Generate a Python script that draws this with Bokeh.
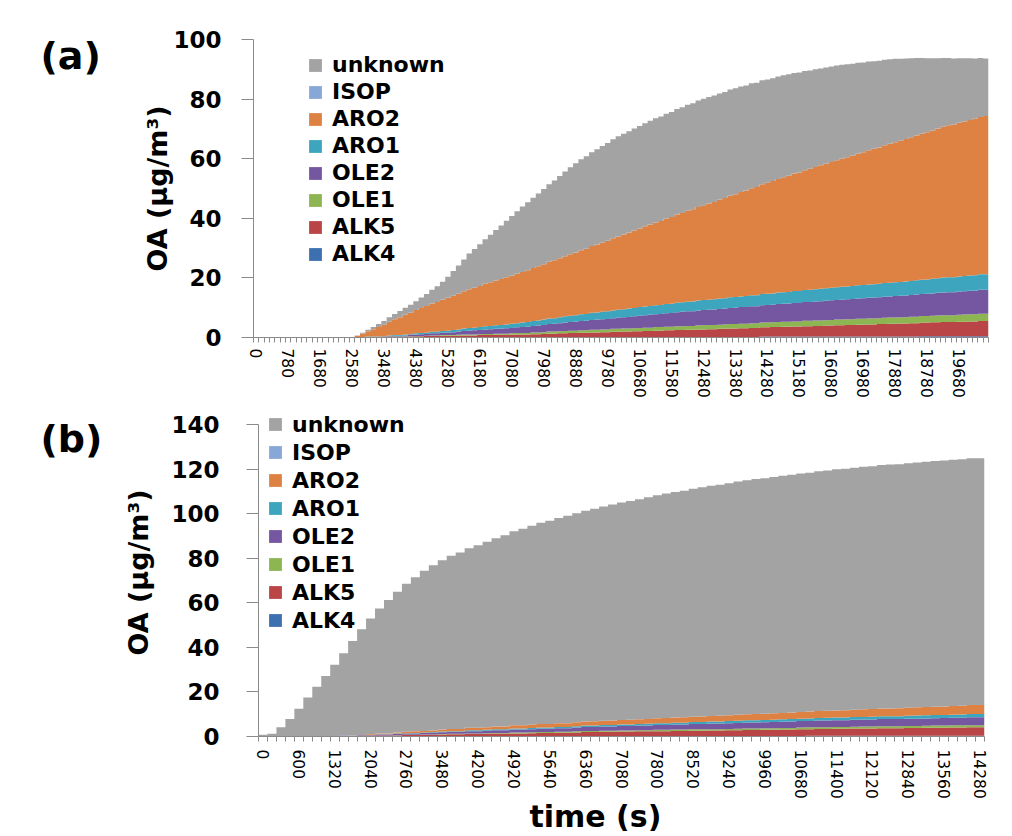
import numpy as np
from bokeh.plotting import figure
from bokeh.models import Range1d, FixedTicker, Legend, LegendItem
from bokeh.core.properties import value
from bokeh.layouts import column, row
from bokeh.embed import file_html
from bokeh.resources import INLINE

# ---------------- data ----------------
series = ["ALK4", "ALK5", "OLE1", "OLE2", "ARO1", "ARO2", "ISOP", "unknown"]
colors = ["#3D70B0", "#BA4547", "#8DB552", "#7556A0", "#3DA5BE", "#DE8244",
          "#87A8D6", "#A3A3A3"]

# panel (a) categories (s)
time_a = [0, 30] + list(range(180, 20431, 150))
Z18 = [0.0] * 18
a_ALK4 = Z18 + [0.0] * 12 + [0.1] * 25 + [0.2] * 40 + [0.3] * 30 + [0.4] * 13
a_ALK5 = Z18 + [
    0.0, 0.0,
    0.1, 0.1, 0.1, 0.1, 0.1, 0.2, 0.2, 0.2, 0.2, 0.3,
    0.3, 0.3, 0.4, 0.4, 0.4, 0.5, 0.5, 0.5, 0.5, 0.6,
    0.6, 0.6, 0.7, 0.7, 0.7, 0.8, 0.8, 0.8, 0.8, 0.9,
    0.9, 0.9, 1.0, 1.0, 1.1, 1.1, 1.1, 1.2, 1.2, 1.3,
    1.3, 1.4, 1.4, 1.5, 1.5, 1.6, 1.6, 1.7, 1.7, 1.8,
    1.8, 1.9, 1.9, 2.0, 2.0, 2.1, 2.1, 2.2, 2.2, 2.3,
    2.3, 2.4, 2.4, 2.5, 2.5, 2.6, 2.6, 2.7, 2.7, 2.8,
    2.8, 2.9, 2.9, 3.0, 3.0, 3.1, 3.1, 3.2, 3.2, 3.3,
    3.3, 3.4, 3.4, 3.5, 3.5, 3.6, 3.6, 3.7, 3.7, 3.8,
    3.8, 3.9, 3.9, 4.0, 4.0, 4.1, 4.1, 4.2, 4.2, 4.3,
    4.3, 4.4, 4.4, 4.5, 4.5, 4.6, 4.6, 4.7, 4.7, 4.8,
    4.8, 4.8, 4.9, 4.9, 5.0, 5.0, 5.1, 5.1]
a_OLE1 = Z18 + [
    0.0, 0.0,
    0.0, 0.0, 0.0, 0.0, 0.0, 0.1, 0.1, 0.1, 0.1, 0.1,
    0.1, 0.1, 0.1, 0.2, 0.2, 0.2, 0.2, 0.2, 0.3, 0.3,
    0.3, 0.3, 0.3, 0.4, 0.4, 0.4, 0.4, 0.4, 0.5, 0.5,
    0.5, 0.5, 0.6, 0.6, 0.6, 0.7, 0.7, 0.7, 0.8, 0.8,
    0.8, 0.8, 0.8, 0.9, 0.9, 0.9, 0.9, 1.0, 1.0, 1.0,
    1.0, 1.0, 1.1, 1.1, 1.1, 1.2, 1.2, 1.2, 1.2, 1.3,
    1.3, 1.3, 1.3, 1.4, 1.4, 1.4, 1.4, 1.4, 1.5, 1.5,
    1.5, 1.5, 1.5, 1.6, 1.6, 1.6, 1.6, 1.6, 1.7, 1.7,
    1.7, 1.7, 1.7, 1.8, 1.8, 1.8, 1.8, 1.8, 1.9, 1.9,
    1.9, 1.9, 1.9, 2.0, 2.0, 2.0, 2.0, 2.0, 2.1, 2.1,
    2.1, 2.1, 2.1, 2.2, 2.2, 2.2, 2.2, 2.2, 2.3, 2.3,
    2.3, 2.3, 2.3, 2.4, 2.4, 2.4, 2.5, 2.5]
a_OLE2 = Z18 + [
    0.0, 0.0,
    0.1, 0.1, 0.1, 0.1, 0.2, 0.2, 0.3, 0.3, 0.4, 0.4,
    0.5, 0.6, 0.6, 0.7, 0.7, 0.8, 0.9, 1.0, 1.1, 1.2,
    1.3, 1.4, 1.4, 1.5, 1.6, 1.6, 1.7, 1.8, 1.8, 1.9,
    2.0, 2.1, 2.2, 2.3, 2.4, 2.5, 2.6, 2.7, 2.8, 2.9,
    3.0, 3.1, 3.2, 3.3, 3.4, 3.4, 3.5, 3.6, 3.7, 3.8,
    3.9, 4.0, 4.1, 4.2, 4.3, 4.3, 4.4, 4.5, 4.6, 4.7,
    4.8, 4.9, 4.9, 5.0, 5.1, 5.1, 5.2, 5.3, 5.3, 5.4,
    5.5, 5.6, 5.6, 5.7, 5.7, 5.8, 5.9, 5.9, 6.0, 6.0,
    6.1, 6.2, 6.2, 6.3, 6.3, 6.4, 6.5, 6.5, 6.6, 6.6,
    6.7, 6.7, 6.8, 6.8, 6.9, 6.9, 7.0, 7.0, 7.1, 7.1,
    7.2, 7.2, 7.3, 7.3, 7.4, 7.4, 7.5, 7.5, 7.6, 7.6,
    7.7, 7.7, 7.8, 7.8, 7.9, 7.9, 8.0, 8.0]
a_ARO1 = Z18 + [
    0.0, 0.0,
    0.0, 0.1, 0.1, 0.1, 0.1, 0.2, 0.2, 0.2, 0.3, 0.3,
    0.4, 0.4, 0.4, 0.5, 0.5, 0.6, 0.6, 0.7, 0.7, 0.8,
    0.9, 0.9, 1.0, 1.1, 1.1, 1.2, 1.2, 1.3, 1.4, 1.4,
    1.5, 1.6, 1.6, 1.7, 1.8, 1.9, 1.9, 2.0, 2.1, 2.1,
    2.2, 2.3, 2.3, 2.4, 2.4, 2.5, 2.6, 2.6, 2.7, 2.7,
    2.8, 2.8, 2.9, 2.9, 3.0, 3.0, 3.0, 3.1, 3.1, 3.2,
    3.2, 3.2, 3.3, 3.3, 3.4, 3.4, 3.4, 3.5, 3.5, 3.6,
    3.6, 3.6, 3.7, 3.7, 3.7, 3.8, 3.8, 3.8, 3.9, 3.9,
    3.9, 4.0, 4.0, 4.0, 4.1, 4.1, 4.2, 4.2, 4.2, 4.3,
    4.3, 4.3, 4.4, 4.4, 4.4, 4.5, 4.5, 4.5, 4.6, 4.6,
    4.6, 4.6, 4.7, 4.7, 4.8, 4.8, 4.8, 4.9, 4.9, 5.0,
    5.0, 5.0, 5.1, 5.1, 5.1, 5.2, 5.2, 5.2]
a_ARO2 = Z18 + [
    0.2, 0.6,
    1.1, 1.8, 2.5, 3.2, 3.9, 4.6, 5.3, 6.0, 6.6, 7.2,
    7.8, 8.4, 9.0, 9.5, 10.0, 10.5, 11.0, 11.5, 12.0, 12.5,
    13.0, 13.4, 13.8, 14.2, 14.6, 15.0, 15.4, 15.8, 16.2, 16.6,
    17.0, 17.4, 17.8, 18.2, 18.6, 19.0, 19.4, 19.8, 20.2, 20.6,
    21.0, 21.5, 21.9, 22.4, 22.8, 23.3, 23.7, 24.2, 24.6, 25.1,
    25.5, 26.0, 26.4, 26.9, 27.3, 27.8, 28.2, 28.7, 29.1, 29.6,
    30.0, 30.5, 30.9, 31.4, 31.8, 32.3, 32.7, 33.2, 33.6, 34.1,
    34.5, 35.0, 35.4, 35.9, 36.3, 36.8, 37.2, 37.7, 38.1, 38.6,
    39.0, 39.4, 39.8, 40.2, 40.6, 41.0, 41.4, 41.8, 42.2, 42.6,
    43.0, 43.4, 43.8, 44.2, 44.6, 45.0, 45.4, 45.8, 46.2, 46.6,
    47.0, 47.4, 47.8, 48.2, 48.6, 49.0, 49.4, 49.8, 50.2, 50.6,
    51.0, 51.3, 51.6, 51.9, 52.2, 52.5, 52.8, 53.1]
a_ISOP = [0.0] * 138
a_unknown = Z18 + [
    0.0, 0.1,
    0.3, 0.5, 0.7, 1.0, 1.2, 1.5, 1.8, 2.1, 2.4, 2.7,
    3.0, 3.5, 4.0, 4.6, 5.3, 6.0, 7.1, 8.3, 9.5, 10.7,
    12.0, 13.0, 14.0, 15.0, 16.0, 17.0, 18.0, 19.0, 20.0, 21.0,
    22.0, 22.8, 23.6, 24.4, 25.2, 26.0, 26.8, 27.6, 28.4, 29.2,
    30.0, 30.5, 31.0, 31.5, 32.0, 32.4, 32.8, 33.2, 33.6, 33.8,
    34.0, 34.2, 34.4, 34.6, 34.8, 35.0, 35.1, 35.2, 35.3, 35.4,
    35.5, 35.6, 35.6, 35.7, 35.7, 35.7, 35.7, 35.6, 35.6, 35.6,
    35.5, 35.4, 35.3, 35.2, 35.0, 34.9, 34.7, 34.5, 34.4, 34.2,
    34.0, 33.8, 33.5, 33.3, 33.0, 32.8, 32.5, 32.3, 32.0, 31.8,
    31.5, 31.2, 30.8, 30.5, 30.1, 29.8, 29.4, 29.1, 28.7, 28.4,
    28.0, 27.5, 27.0, 26.5, 26.0, 25.4, 24.8, 24.2, 23.6, 23.1,
    22.6, 22.1, 21.6, 21.2, 20.7, 20.2, 19.8, 19.3]

# panel (b) categories (s)
time_b = [0, 60] + list(range(240, 14281, 180))
b_ALK4 = [0.0] * 16 + [0.1] * 20 + [0.2] * 25 + [0.3] * 20
b_ALK5 = [0.0] * 7 + [
    0.1,
    0.1, 0.2, 0.2, 0.3, 0.3, 0.4, 0.4, 0.5, 0.6, 0.6, 0.7, 0.7,
    0.8, 0.9, 0.9, 1.0, 1.0, 1.1, 1.2, 1.2, 1.3, 1.3,
    1.4, 1.5, 1.5, 1.6, 1.6, 1.7, 1.8, 1.8, 1.9, 1.9,
    2.0, 2.0, 2.1, 2.1, 2.2, 2.2, 2.3, 2.3, 2.4, 2.4,
    2.5, 2.5, 2.6, 2.6, 2.7, 2.7, 2.8, 2.8, 2.9, 2.9,
    3.0, 3.0, 3.1, 3.1, 3.2, 3.2, 3.3, 3.3, 3.3, 3.4,
    3.4, 3.4, 3.5, 3.5, 3.6, 3.6, 3.6, 3.7, 3.7, 3.8, 3.8]
b_OLE1 = [0.0] * 10 + [0.1] * 10 + [
    0.2, 0.2, 0.2, 0.3, 0.3, 0.3, 0.3, 0.3, 0.4, 0.4,
    0.4, 0.4, 0.4, 0.4, 0.4, 0.5, 0.5, 0.5, 0.5, 0.5,
    0.5, 0.5, 0.5, 0.5, 0.6, 0.6, 0.6, 0.6, 0.6, 0.6,
    0.6, 0.6, 0.6, 0.7, 0.7, 0.7, 0.7, 0.7, 0.7, 0.7,
    0.8, 0.8, 0.8, 0.8, 0.8, 0.8, 0.8, 0.9, 0.9, 0.9,
    0.9, 0.9, 0.9, 0.9, 0.9, 1.0, 1.0, 1.0, 1.0, 1.0, 1.0]
b_OLE2 = [0.0] * 7 + [
    0.1,
    0.1, 0.2, 0.2, 0.3, 0.3, 0.4, 0.4, 0.5, 0.5, 0.6, 0.7, 0.7,
    0.8, 0.9, 0.9, 1.0, 1.0, 1.1, 1.2, 1.2, 1.3, 1.3,
    1.4, 1.5, 1.5, 1.6, 1.6, 1.7, 1.8, 1.8, 1.9, 1.9,
    2.0, 2.0, 2.1, 2.1, 2.2, 2.2, 2.3, 2.3, 2.4, 2.4,
    2.5, 2.5, 2.6, 2.6, 2.7, 2.7, 2.7, 2.8, 2.8, 2.9,
    2.9, 2.9, 3.0, 3.0, 3.0, 3.0, 3.1, 3.1, 3.1, 3.2,
    3.2, 3.2, 3.3, 3.3, 3.3, 3.3, 3.4, 3.4, 3.4, 3.5, 3.5]
b_ARO1 = [0.0] * 12 + [
    0.1, 0.1, 0.1, 0.2, 0.2, 0.2, 0.2, 0.3,
    0.3, 0.3, 0.3, 0.4, 0.4, 0.4, 0.4, 0.4, 0.5, 0.5,
    0.5, 0.5, 0.5, 0.6, 0.6, 0.6, 0.6, 0.6, 0.7, 0.7,
    0.7, 0.7, 0.7, 0.8, 0.8, 0.8, 0.8, 0.8, 0.9, 0.9,
    0.9, 0.9, 0.9, 1.0, 1.0, 1.0, 1.0, 1.0, 1.1, 1.1,
    1.1, 1.1, 1.1, 1.2, 1.2, 1.2, 1.2, 1.2, 1.3, 1.3,
    1.3, 1.3, 1.3, 1.4, 1.4, 1.4, 1.4, 1.4, 1.5, 1.5, 1.5]
b_ARO2 = [0.0] * 12 + [
    0.3, 0.4, 0.4, 0.5, 0.6, 0.7, 0.7, 0.8,
    0.9, 1.0, 1.0, 1.1, 1.1, 1.2, 1.3, 1.3, 1.4, 1.4,
    1.5, 1.6, 1.6, 1.7, 1.7, 1.8, 1.8, 1.9, 1.9, 2.0,
    2.0, 2.1, 2.1, 2.2, 2.2, 2.3, 2.3, 2.4, 2.4, 2.5,
    2.5, 2.6, 2.6, 2.7, 2.7, 2.8, 2.8, 2.9, 2.9, 3.0,
    3.0, 3.1, 3.1, 3.2, 3.2, 3.3, 3.3, 3.4, 3.4, 3.5,
    3.5, 3.6, 3.6, 3.7, 3.7, 3.8, 3.8, 3.9, 3.9, 4.0, 4.0]
b_ISOP = [0.0] * 81
b_unknown = [
    0.8, 1.2, 4.2, 7.9, 12.4, 17.5, 22.3, 27.0, 32.0, 37.0,
    42.4, 47.4, 51.8, 56.0, 59.8, 63.2, 66.4, 69.2, 71.9, 74.1,
    76.0, 77.7, 79.2, 80.6, 81.9, 83.2, 84.5, 85.8, 87.1, 88.2,
    89.3, 90.3, 91.2, 92.1, 93.0, 93.8, 94.6, 95.4, 96.1, 96.9,
    97.6, 98.2, 98.8, 99.5, 100.1, 100.7, 101.2, 101.7, 102.3, 102.8,
    103.3, 103.7, 104.1, 104.6, 105.0, 105.4, 105.7, 106.0, 106.4, 106.7,
    107.0, 107.2, 107.6, 107.8, 108.2, 108.4, 108.6, 108.8, 109.0, 109.2,
    109.4, 109.5, 109.7, 109.9, 110.1, 110.2, 110.3, 110.5, 110.6, 110.7,
    110.8]

a_ticks = [0, 20, 40, 60, 80, 100]
b_ticks = [0, 20, 40, 60, 80, 100, 120, 140]

FONT = "DejaVu Sans"
AXIS_COL = "#8A8A8A"
TAG_W = 120
NBSP = "\u00a0"


def make_tag(text, height, ymax, top, bottom, y_text):
    t = figure(width=TAG_W, height=height, output_backend="svg",
               toolbar_location=None, x_axis_location=None,
               y_axis_location=None, min_border_left=0, min_border_right=0,
               min_border_top=top, min_border_bottom=bottom,
               x_range=Range1d(0, TAG_W), y_range=Range1d(0, ymax))
    t.outline_line_color = None
    t.grid.visible = False
    t.background_fill_color = "white"
    t.border_fill_color = "white"
    t.text(x=[40], y=[y_text], text=[text],
           text_font=value(FONT), text_font_style="bold",
           text_font_size="38px", text_color="black",
           text_baseline="alphabetic")
    return t


def make_panel(times, vals, label_every, ymax, ybound, yticks, height,
               borders, legend_loc, legend_row, ytitle_standoff,
               ylab_standoff, xlab_standoff, xtitle=None):
    n = len(times)
    left, right, top, bottom = borders
    p = figure(width=1012 - TAG_W, height=height, output_backend="svg",
               toolbar_location=None,
               x_range=Range1d(-0.5, n - 0.5), y_range=Range1d(0, ymax),
               min_border_left=left - TAG_W, min_border_right=right,
               min_border_top=top, min_border_bottom=bottom)
    p.background_fill_color = "white"
    p.border_fill_color = "white"
    p.outline_line_color = None
    p.grid.visible = False

    # stacked step areas, one column per category
    xs = [i - 0.5 for i in range(n)] + [n - 0.5]
    base = np.zeros(n)
    rs = []
    for s, v, c in zip(series, vals, colors):
        topv = base + np.asarray(v, dtype=float)
        y1 = list(base) + [base[-1]]
        y2 = list(topv) + [topv[-1]]
        r = p.varea_step(x=xs, y1=y1, y2=y2, step_mode="after",
                         fill_color=c)
        rs.append(r)
        base = topv

    # x axis
    xa = p.xaxis[0]
    lab_idx = list(range(0, n, label_every))
    xa.ticker = FixedTicker(ticks=lab_idx,
                            minor_ticks=[i - 0.5 for i in range(n + 1)])
    xa.major_label_overrides = {i: str(times[i]) for i in lab_idx}
    xa.major_label_orientation = "vertical"
    xa.major_label_text_font = FONT
    xa.major_label_text_font_size = "15.5px"
    xa.major_label_text_color = "black"
    xa.major_label_standoff = xlab_standoff
    xa.major_tick_out = 0
    xa.major_tick_in = 0
    xa.minor_tick_out = 5
    xa.minor_tick_in = 0
    xa.axis_line_color = AXIS_COL
    xa.minor_tick_line_color = AXIS_COL
    xa.major_tick_line_color = AXIS_COL
    if xtitle is not None:
        xa.axis_label = xtitle
        xa.axis_label_text_font = FONT
        xa.axis_label_text_font_style = "bold"
        xa.axis_label_text_font_size = "30px"
        xa.axis_label_text_color = "black"
        xa.axis_label_standoff = -3

    # y axis
    ya = p.yaxis[0]
    ya.ticker = FixedTicker(ticks=yticks)
    ya.bounds = (0, ybound)
    ya.major_label_text_font = FONT
    ya.major_label_text_font_style = "bold"
    ya.major_label_text_font_size = "23px"
    ya.major_label_text_color = "black"
    ya.major_label_standoff = ylab_standoff
    ya.major_tick_out = 12
    ya.major_tick_in = 0
    ya.minor_tick_out = 0
    ya.minor_tick_in = 0
    ya.axis_line_color = AXIS_COL
    ya.major_tick_line_color = AXIS_COL
    ya.axis_label = "OA (μg/m³)"
    ya.axis_label_text_font = FONT
    ya.axis_label_text_font_style = "bold"
    ya.axis_label_text_font_size = "27px"
    ya.axis_label_text_color = "black"
    ya.axis_label_standoff = ytitle_standoff

    items = [LegendItem(label=s, renderers=[r])
             for s, r in zip(series, rs)][::-1]
    leg = Legend(items=items, location=legend_loc, orientation="vertical",
                 border_line_color=None, background_fill_alpha=0.0,
                 padding=0, margin=0, spacing=0, glyph_width=16,
                 glyph_height=16, label_standoff=9, label_height=legend_row,
                 label_text_font=FONT, label_text_font_style="bold",
                 label_text_font_size="22px", label_text_color="black")
    p.add_layout(leg)
    return p


YMAX_B = 140 * 328 / 312

pa = make_panel(time_a,
                [a_ALK4, a_ALK5, a_OLE1, a_OLE2, a_ARO1, a_ARO2, a_ISOP,
                 a_unknown],
                6, 100, 100, a_ticks, 400, (253, 24, 39, 63),
                (54, 70), 27, -3, 20, 6)
# panel (b): frame extends 16 px above the 140 tick so the legend fits
pb = make_panel(time_b,
                [b_ALK4, b_ALK5, b_OLE1, b_OLE2, b_ARO1, b_ARO2, b_ISOP,
                 b_unknown],
                4, YMAX_B, 140, b_ticks, 436, (251, 28, 8, 100),
                (9, 102), 28, 14, 27, 8,
                xtitle="time (s)" + NBSP * 5)

ta = make_tag("(a)", 400, 100, 39, 63, 94.6)
tb = make_tag("(b)", 436, YMAX_B, 8, 100, 133.3)

layout = column(row(ta, pa, spacing=0), row(tb, pb, spacing=0), spacing=0)
open("out.html", "w").write(file_html(layout, INLINE))
